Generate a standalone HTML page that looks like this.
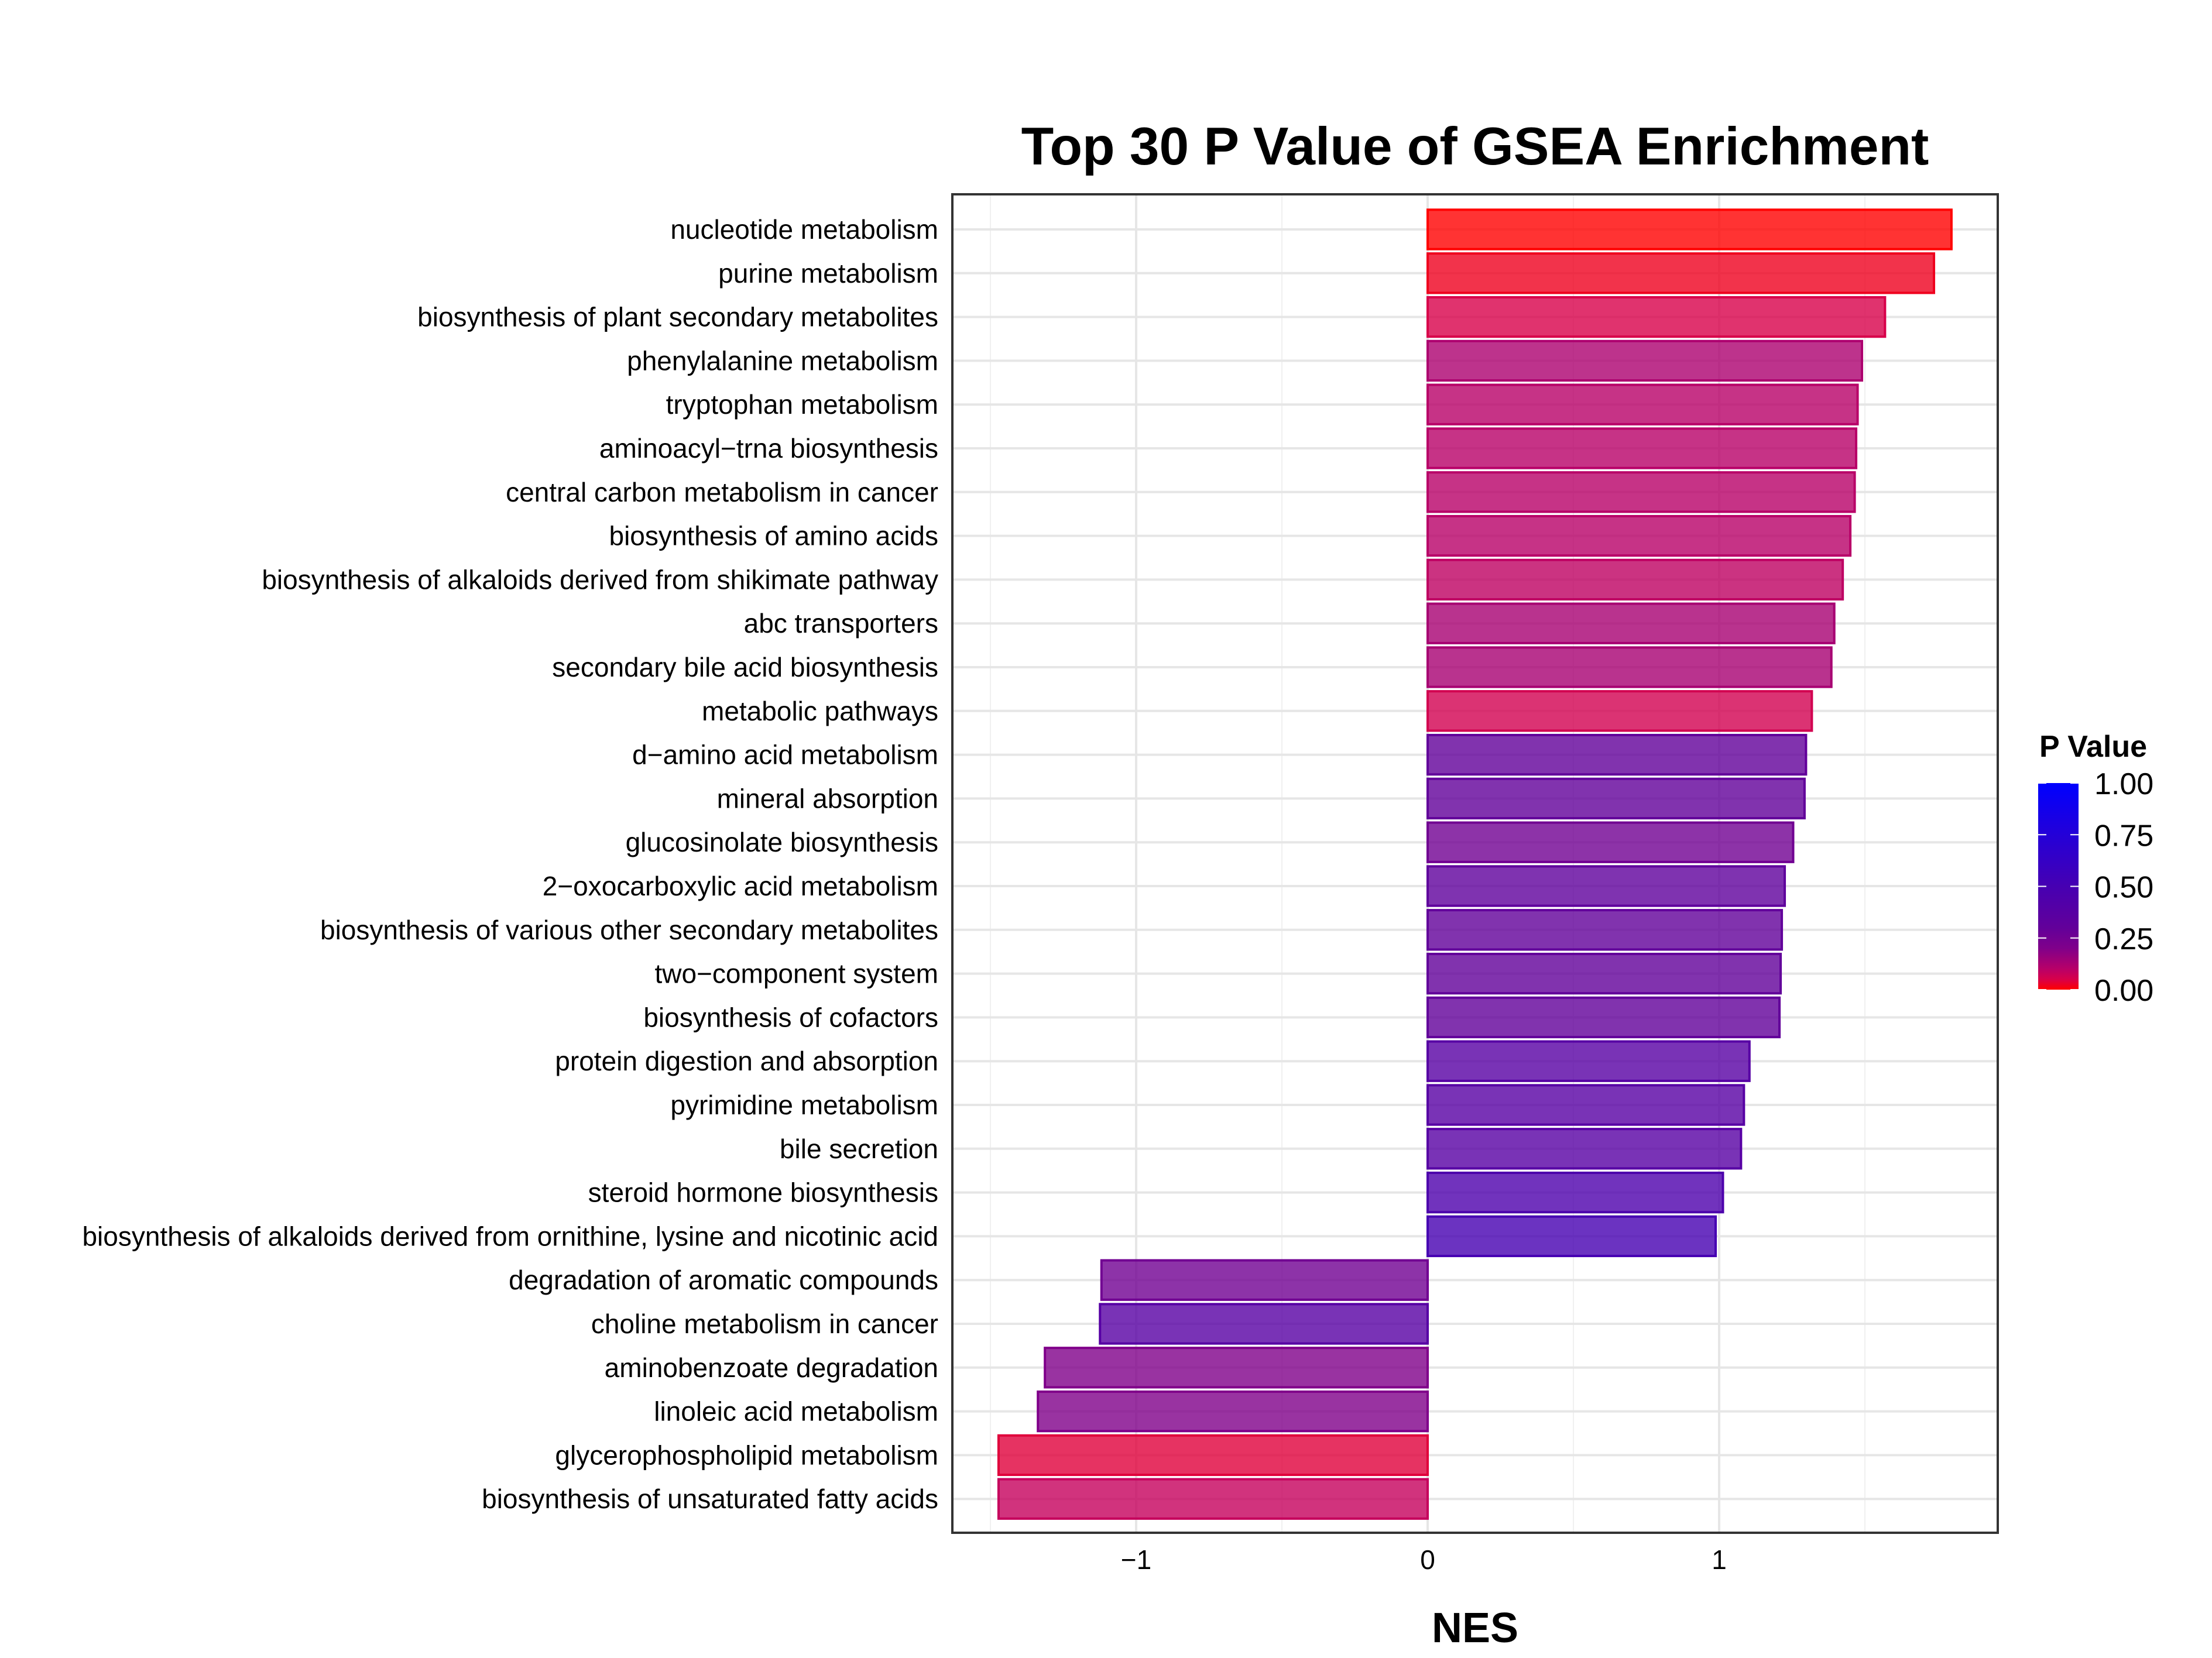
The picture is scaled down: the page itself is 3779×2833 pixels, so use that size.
<!DOCTYPE html>
<html><head><meta charset="utf-8"><style>
html,body{margin:0;padding:0;background:#fff;}
svg{display:block;font-family:"Liberation Sans",Arial,sans-serif;}
</style></head><body>
<svg id="chart" width="3779" height="2833" viewBox="0 0 3779 2833" xmlns="http://www.w3.org/2000/svg">
<defs>
<linearGradient id="pgrad" x1="0" y1="1" x2="0" y2="0">
<stop offset="0" stop-color="#ff0000"/>
<stop offset="0.05" stop-color="#d8004a"/>
<stop offset="0.1" stop-color="#b80068"/>
<stop offset="0.2" stop-color="#80008a"/>
<stop offset="0.3" stop-color="#62009a"/>
<stop offset="0.5" stop-color="#4600b2"/>
<stop offset="0.75" stop-color="#2400d8"/>
<stop offset="1" stop-color="#0000ff"/>
</linearGradient>
</defs>
<rect x="0" y="0" width="3779" height="2833" fill="#fff"/>
<text x="2520" y="281" font-size="91" font-weight="bold" text-anchor="middle">Top 30 P Value of GSEA Enrichment</text>
<g id="grid"></g>
<g id="bars"></g>
<g id="ylabels"></g>
<g id="xlabels"></g>
<rect x="1627" y="332" width="1786" height="2287" fill="none" stroke="#333" stroke-width="4"/>
<text x="2520" y="2806" font-size="72" font-weight="bold" text-anchor="middle">NES</text>
<g>
<text x="3484" y="1293" font-size="52" font-weight="bold">P Value</text>
<rect x="3482" y="1338" width="69" height="353" fill="url(#pgrad)"/>
<g id="legticks"></g>
</g>
</svg>
<script>
const categories = ["nucleotide metabolism","purine metabolism","biosynthesis of plant secondary metabolites","phenylalanine metabolism","tryptophan metabolism","aminoacyl\u2212trna biosynthesis","central carbon metabolism in cancer","biosynthesis of amino acids","biosynthesis of alkaloids derived from shikimate pathway","abc transporters","secondary bile acid biosynthesis","metabolic pathways","d\u2212amino acid metabolism","mineral absorption","glucosinolate biosynthesis","2\u2212oxocarboxylic acid metabolism","biosynthesis of various other secondary metabolites","two\u2212component system","biosynthesis of cofactors","protein digestion and absorption","pyrimidine metabolism","bile secretion","steroid hormone biosynthesis","biosynthesis of alkaloids derived from ornithine, lysine and nicotinic acid","degradation of aromatic compounds","choline metabolism in cancer","aminobenzoate degradation","linoleic acid metabolism","glycerophospholipid metabolism","biosynthesis of unsaturated fatty acids"];
const nesValues = [1.797,1.737,1.569,1.49,1.475,1.47,1.465,1.45,1.424,1.395,1.385,1.318,1.298,1.293,1.254,1.225,1.215,1.211,1.207,1.104,1.085,1.075,1.013,0.988,-1.119,-1.124,-1.313,-1.337,-1.472,-1.472];
const pValues = [0.0,0.02,0.05,0.12,0.1,0.1,0.1,0.1,0.09,0.13,0.13,0.06,0.3,0.3,0.25,0.32,0.3,0.3,0.3,0.38,0.38,0.38,0.45,0.5,0.25,0.38,0.2,0.2,0.04,0.08];
const xTicks = [-1,0,1];
const xTickLabels = ["\u22121","0","1"];
const xMinor = [-1.5,-0.5,0.5,1.5];
const legendTicks = [0,0.25,0.5,0.75,1];
const legendTickLabels = ["0.00","0.25","0.50","0.75","1.00"];

const NS="http://www.w3.org/2000/svg";
const PL=1627, PR=3413, PT=332, PB=2619;
const X0=2439, XU=498;
const xScale = v => X0 + v*XU;
const Y0=392, YS=74.8;
const yScale = i => Y0 + i*YS;
const stops=[[0,[255,0,0]],[0.05,[216,0,74]],[0.1,[184,0,104]],[0.2,[128,0,138]],[0.3,[98,0,154]],[0.5,[70,0,178]],[0.75,[36,0,216]],[1,[0,0,255]]];
function pColor(p){
  for(let i=1;i<stops.length;i++){
    if(p<=stops[i][0]){const a=stops[i-1],b=stops[i];const t=(p-a[0])/(b[0]-a[0]);
      const c=a[1].map((v,k)=>Math.round(v+(b[1][k]-v)*t));return `rgb(${c[0]},${c[1]},${c[2]})`;}
  }
  return "rgb(0,0,255)";
}
function mk(tag,attrs,parent){const e=document.createElementNS(NS,tag);for(const k in attrs)e.setAttribute(k,attrs[k]);parent.appendChild(e);return e;}
const grid=document.getElementById('grid');
mk('rect',{x:PL,y:PT,width:PR-PL,height:PB-PT,fill:'#fff'},grid);
xMinor.forEach(v=>{const l=mk('line',{x1:xScale(v),x2:xScale(v),y1:PT,y2:PB,stroke:'#f0f0f0','stroke-width':2},grid);

});
xTicks.forEach(v=>{const l=mk('line',{x1:xScale(v),x2:xScale(v),y1:PT,y2:PB,stroke:'#e6e6e6','stroke-width':4},grid);

});
categories.forEach((c,i)=>{const l=mk('line',{x1:PL,x2:PR,y1:yScale(i),y2:yScale(i),stroke:'#e6e6e6','stroke-width':4},grid);

});
const bars=document.getElementById('bars');
const BH=YS*0.9;
nesValues.forEach((v,i)=>{
  const col=pColor(pValues[i]);
  const x=Math.min(xScale(0),xScale(v)), w=Math.abs(xScale(v)-xScale(0));
  const r=mk('rect',{x:x,y:yScale(i)-BH/2,width:w,height:BH,fill:col,'fill-opacity':0.8,stroke:col,'stroke-width':4},bars);
  
  
});
const yl=document.getElementById('ylabels');
categories.forEach((c,i)=>{const t=mk('text',{x:1603,y:yScale(i)+16,'font-size':46,'text-anchor':'end',fill:'#000'},yl);t.textContent=c;

});
const xl=document.getElementById('xlabels');
xTicks.forEach((v,i)=>{const t=mk('text',{x:xScale(v),y:2681,'font-size':46,'text-anchor':'middle',fill:'#000'},xl);t.textContent=xTickLabels[i];

});
const lg=document.getElementById('legticks');
const LT=1338, LB=1691;
legendTicks.forEach((v,i)=>{const y=LB-(LB-LT)*v;
  const a=mk('line',{x1:3482,x2:3496,y1:y,y2:y,stroke:'#fff','stroke-width':2},lg);
  
  
  const b=mk('line',{x1:3537,x2:3551,y1:y,y2:y,stroke:'#fff','stroke-width':2},lg);
  
  
  const t=mk('text',{x:3578,y:y+19,'font-size':52,fill:'#000'},lg);t.textContent=legendTickLabels[i];
  
  
});
</script>
</body></html>
